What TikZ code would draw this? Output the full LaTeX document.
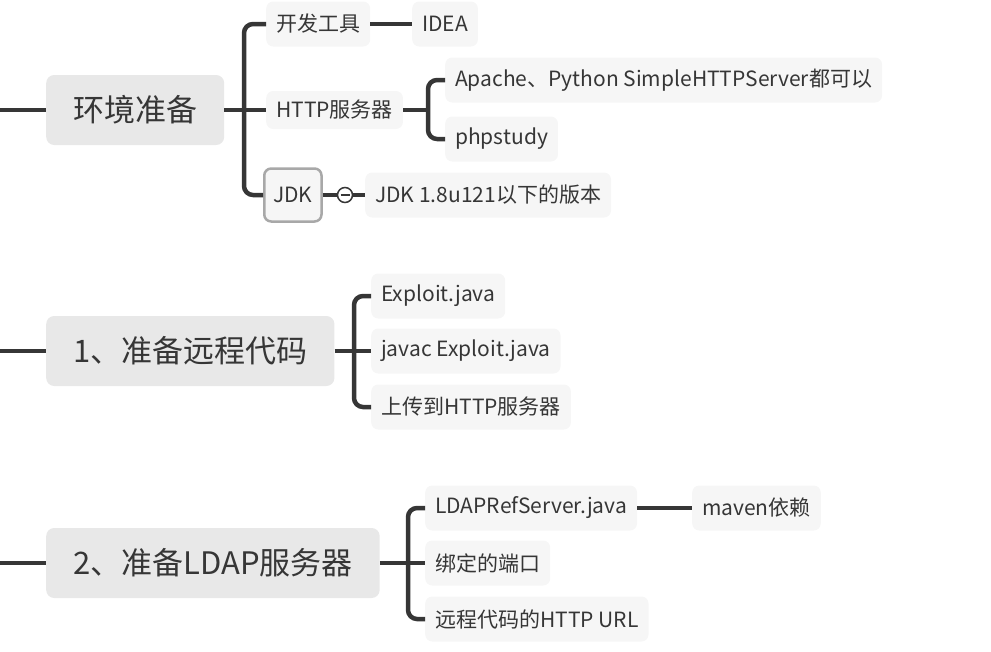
\documentclass[tikz,border=0pt]{standalone}
\usepackage{fontspec}
\setmainfont{Noto Sans CJK SC}
\definecolor{ink}{HTML}{363636}
\definecolor{topicfill}{HTML}{E8E8E8}
\definecolor{leaffill}{HTML}{F6F6F6}
\definecolor{selborder}{HTML}{A8A8A8}

\begin{document}
\begin{tikzpicture}[x=1pt,y=-1pt,
    topic/.style={fill=topicfill,rounded corners=8pt,text=ink,anchor=west,
        font=\fontsize{31}{36}\selectfont,minimum height=70pt,inner xsep=27pt},
    leaf/.style={fill=leaffill,rounded corners=7pt,text=ink,anchor=west,
        font=\fontsize{21}{25}\selectfont,minimum height=45pt,inner xsep=10pt},
    conn/.style={draw=ink,line width=4.5pt},
    bracket/.style={conn,rounded corners=9pt}]
    \useasboundingbox (0,0) rectangle (991,651);

    % environment
    \node[topic] (env) at (46,110) {环境准备};
    \node[leaf] (tool) at (266,24) {开发工具};
    \node[leaf] (idea) at (412,24) {IDEA};
    \node[leaf,minimum height=38pt] (http) at (266,110) {HTTP服务器};
    \node[leaf] (apache) at (445,80) {Apache、Python SimpleHTTPServer都可以};
    \node[leaf] (phpstudy) at (445,139) {phpstudy};
    \node[leaf,draw=selborder,line width=2.5pt,minimum height=53pt,inner xsep=9pt] (jdk) at (263,195) {JDK};
    \node[leaf] (jdkver) at (365,195) {JDK 1.8u121以下的版本};
    \node[circle,draw=ink,fill=white,line width=1.5pt,minimum size=15pt,inner sep=0pt] (fold) at (345,195) {};
    \coordinate (in1) at (0,110);
    \coordinate (br1) at (244,110);
    \coordinate (br2) at (428,110);

    \draw[conn] (in1) -- (env.west);
    \draw[conn] (env.east) -- (http.west);
    \draw[bracket] (tool.west) -| (br1) |- (jdk.west);
    \draw[conn] (tool.east) -- (idea.west);
    \draw[conn] (http.east) -- (br2);
    \draw[bracket] (apache.west) -| (br2) |- (phpstudy.west);
    \draw[conn] (jdk.east) -- (fold.west);
    \draw[conn] (fold.east) -- (jdkver.west);
    \draw[ink,line width=1.5pt] ([xshift=-4.5pt]fold.center) -- ([xshift=4.5pt]fold.center);

    % remote code
    \node[topic] (code) at (46,351) {1、准备远程代码};
    \node[leaf] (exploit) at (371,296) {Exploit.java};
    \node[leaf] (javac) at (371,351) {javac Exploit.java};
    \node[leaf] (upload) at (371,407) {上传到HTTP服务器};
    \coordinate (in2) at (0,351);
    \coordinate (br3) at (354,351);

    \draw[conn] (in2) -- (code.west);
    \draw[conn] (code.east) -- (javac.west);
    \draw[bracket] (exploit.west) -| (br3) |- (upload.west);

    % ldap server
    \node[topic] (ldap) at (46,563) {2、准备LDAP服务器};
    \node[leaf] (refsrv) at (425,508) {LDAPRefServer.java};
    \node[leaf] (maven) at (692,508) {maven依赖};
    \node[leaf] (port) at (425,563) {绑定的端口};
    \node[leaf] (url) at (425,619) {远程代码的HTTP URL};
    \coordinate (in3) at (0,563);
    \coordinate (br4) at (408,563);

    \draw[conn] (in3) -- (ldap.west);
    \draw[conn] (ldap.east) -- (port.west);
    \draw[bracket] (refsrv.west) -| (br4) |- (url.west);
    \draw[conn] (refsrv.east) -- (maven.west);
\end{tikzpicture}
\end{document}
